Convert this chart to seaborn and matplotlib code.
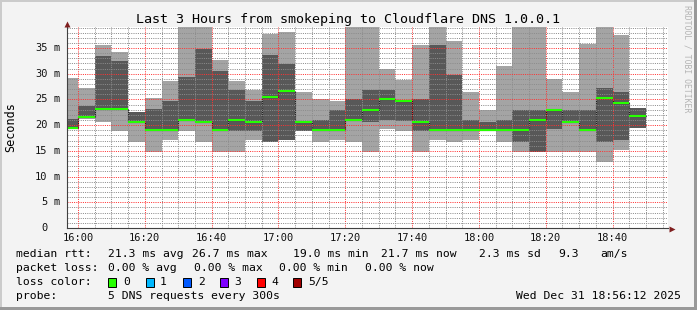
import numpy as np
import matplotlib
matplotlib.use("Agg")
import matplotlib.pyplot as plt
from matplotlib.patches import Rectangle
import matplotlib.transforms as mtransforms
import seaborn as sns

# ---------------- data ----------------
# start of each 5-minute sample interval, minutes after 16:00
bar_start = list(range(-5, 170, 5))
rtt_min = [19.3, 21.3, 20.7, 18.9, 16.8, 14.8, 17.1, 18.9, 16.8, 14.8,
           14.8, 17.1, 16.8, 17.1, 18.9, 16.8, 17.1, 16.8, 14.8, 19.3,
           18.9, 14.8, 17.1, 16.8, 17.1, 18.8, 16.8, 14.8, 14.8, 14.8,
           14.8, 14.8, 12.8, 15.2, 19.5]
rtt_q1 = [19.4, 21.4, 23.0, 23.0, 20.6, 18.9, 18.9, 21.0, 20.6, 18.9,
          18.9, 18.9, 16.8, 17.1, 18.9, 18.9, 18.9, 20.9, 20.7, 21.0,
          20.8, 18.9, 18.9, 18.9, 18.9, 18.9, 18.9, 16.8, 14.8, 19.3,
          20.6, 18.9, 16.8, 17.1, 19.5]
rtt_median = [19.5, 21.5, 23.1, 23.1, 20.7, 19.0, 19.0, 21.1, 20.7, 19.0,
              21.0, 20.7, 25.4, 26.7, 20.7, 19.0, 19.0, 21.0, 23.0, 25.1,
              24.7, 20.7, 19.0, 19.0, 19.0, 19.0, 19.0, 19.0, 21.0, 23.0,
              20.7, 19.0, 25.3, 24.3, 21.7]
rtt_q3 = [21.2, 23.8, 33.5, 32.4, 22.5, 23.1, 24.7, 29.4, 34.8, 30.5,
          26.8, 24.7, 33.6, 31.9, 20.8, 21.0, 23.0, 25.1, 26.8, 26.8,
          24.8, 25.1, 35.6, 29.8, 21.0, 20.7, 21.0, 23.0, 23.0, 23.1,
          23.0, 23.0, 27.2, 26.4, 23.3]
rtt_max = [29.2, 27.3, 35.6, 34.2, 22.6, 25.2, 28.6, 40.0, 40.0, 32.7,
           28.6, 26.8, 37.7, 38.2, 26.5, 25.1, 24.7, 40.0, 40.0, 30.9,
           28.8, 35.6, 40.0, 36.4, 26.5, 23.0, 31.6, 40.0, 40.0, 29.0,
           26.5, 35.8, 40.0, 37.5, 23.3]

tick_minutes = [0, 20, 40, 60, 80, 100, 120, 140, 160]
tick_labels = ["16:00", "16:20", "16:40", "17:00", "17:20",
               "17:40", "18:00", "18:20", "18:40"]
ytick_values = [0, 5, 10, 15, 20, 25, 30, 35]
ytick_numbers = ["0", "5", "10", "15", "20", "25", "30", "35"]

title = "Last 3 Hours from smokeping to Cloudflare DNS 1.0.0.1"
loss_labels = ["0", "1", "2", "3", "4", "5/5"]
loss_colors = ["#26ff00", "#00b8ff", "#0059ff", "#7e00ff", "#ff0000", "#a10000"]

# ---------------- figure ----------------
sns.set_style("white")
plt.rcParams['font.family'] = ['DejaVu Sans Mono', 'DejaVu Sans']

W, H = 697, 310
BG = '#f3f3f3'
fig = plt.figure(figsize=(W / 100, H / 100), dpi=100, facecolor=BG)


def fx(x):
    return x / W


def fy(y):
    return 1 - y / H


# 3D-ish frame
fig.patches.append(Rectangle((0, 0), fx(2), 1, transform=fig.transFigure, color='#cbcbcb', lw=0))
fig.patches.append(Rectangle((0, fy(2)), 1, 2 / H, transform=fig.transFigure, color='#cbcbcb', lw=0))
fig.patches.append(Rectangle((fx(694), 0), 3 / W, 1, transform=fig.transFigure, color='#999999', lw=0))
fig.patches.append(Rectangle((0, 0), 1, 3 / H, transform=fig.transFigure, color='#999999', lw=0))

ax = fig.add_axes([fx(67), fy(228), 601 / W, 201 / H])
ax.set_facecolor('white')
ax.set_xlim(-3.3, 176.6)
ax.set_ylim(0, 39.1)

x_ext = np.array(bar_start + [bar_start[-1] + 5], dtype=float)


def ext(a):
    return np.array(a + [a[-1]], dtype=float)


ax.fill_between(x_ext, ext(rtt_min), ext(rtt_max), step='post',
                color='#a4a4a4', lw=0, zorder=1)
ax.fill_between(x_ext, ext(rtt_q1), ext(rtt_q3), step='post',
                color='#585858', lw=0, zorder=1.1)
sns.lineplot(x=x_ext, y=ext(rtt_median), drawstyle='steps-post', color='#202020',
             lw=0.8, estimator=None, ax=ax, zorder=2, legend=False)
ax.hlines(rtt_median, bar_start, np.array(bar_start) + 5, colors=loss_colors[0],
          lw=1.5, zorder=4)

# grid
ax.set_xticks(tick_minutes)
ax.set_xticks(np.arange(0, 180, 5), minor=True)
ax.set_yticks(ytick_values)
ax.set_yticks(np.arange(0, 40, 1), minor=True)
ax.set_axisbelow(False)
ax.grid(which='minor', color=(0.55, 0.55, 0.55, 0.3), ls=(0, (1, 1.2)), lw=0.72)
ax.grid(which='major', color=(1, 0.2, 0.2, 0.2), ls=(0, (1, 1.2)), lw=0.72)
ax.tick_params(which='both', length=0)
ax.set_xticklabels(tick_labels, fontsize=7.5, color='#111111')
ax.tick_params(axis='x', pad=3.6)
ax.set_yticklabels([])
ax.set_xlabel('')
ax.set_ylabel('')

for s in ['top', 'right']:
    ax.spines[s].set_visible(False)
for s in ['left', 'bottom']:
    ax.spines[s].set_color('#404040')
    ax.spines[s].set_linewidth(0.8)
    ax.spines[s].set_zorder(5)

# axis arrows
ax.plot([(671.5 - 67) / 601], [(228 - 228.5) / 201], marker='>', ms=4.5, color='#7f1f1f',
        mec='none', transform=ax.transAxes, clip_on=False, zorder=6)
ax.plot([0], [(228 - 24) / 201], marker='^', ms=4.5, color='#7f1f1f',
        mec='none', transform=ax.transAxes, clip_on=False, zorder=6)

# y tick labels: number and SI unit
bt = mtransforms.blended_transform_factory(fig.transFigure, ax.transData)
for v, n in zip(ytick_values, ytick_numbers):
    ax.text(fx(47.6), v, n, transform=bt, ha='right', va='center', fontsize=7.5,
            color='#111111', clip_on=False)
    if v != 0:
        ax.text(fx(53.6), v, 'm', transform=bt, ha='left', va='center', fontsize=7.5,
                color='#111111', clip_on=False)

# texts
fig.text(0.5, fy(19), title, ha='center', va='center', fontsize=9.6, color='black')
fig.text(fx(11), fy(127.5), 'Seconds', rotation=90, ha='center', va='center',
         fontsize=8.5, color='black')
fig.text(fx(686.7), fy(5), 'RRDTOOL / TOBI OETIKER', rotation=270, ha='center',
         va='top', fontsize=5.9, color='#b4b4b4')

LS = 8.2
rows = {
    254: [(16, 'median rtt:'), (107.6, '21.3 ms avg'), (192.5, '26.7 ms max'),
          (293.3, '19.0 ms min'), (381.3, '21.7 ms now'), (479, '2.3 ms sd'),
          (558.2, '9.3'), (600, 'am/s')],
    268: [(16, 'packet loss:'), (107.6, '0.00 % avg'), (193.8, '0.00 % max'),
          (279, '0.00 % min'), (365.3, '0.00 % now')],
    296: [(16, 'probe:'), (107.6, '5 DNS requests every 300s')],
}
for y, items in rows.items():
    for x, s in items:
        fig.text(fx(x), fy(y), s, ha='left', va='center', fontsize=LS, color='black')
fig.text(fx(681), fy(296), 'Wed Dec 31 18:56:12 2025', ha='right', va='center',
         fontsize=LS, color='black')

fig.text(fx(16), fy(282), 'loss color:', ha='left', va='center', fontsize=LS, color='black')
box_x = [108.4, 145.8, 182.7, 219.6, 256.9, 293.3]
lab_x = [123.6, 160.0, 197.8, 234.2, 271.6, 308.4]
for bx, lx, lab, col in zip(box_x, lab_x, loss_labels, loss_colors):
    fig.patches.append(Rectangle((fx(bx), fy(287)), 8 / W, 9 / H, transform=fig.transFigure,
                                 facecolor=col, edgecolor='black', lw=0.7))
    fig.text(fx(lx), fy(282), lab, ha='left', va='center', fontsize=LS, color='black')

fig.savefig('out.png', dpi=100, facecolor=BG)
